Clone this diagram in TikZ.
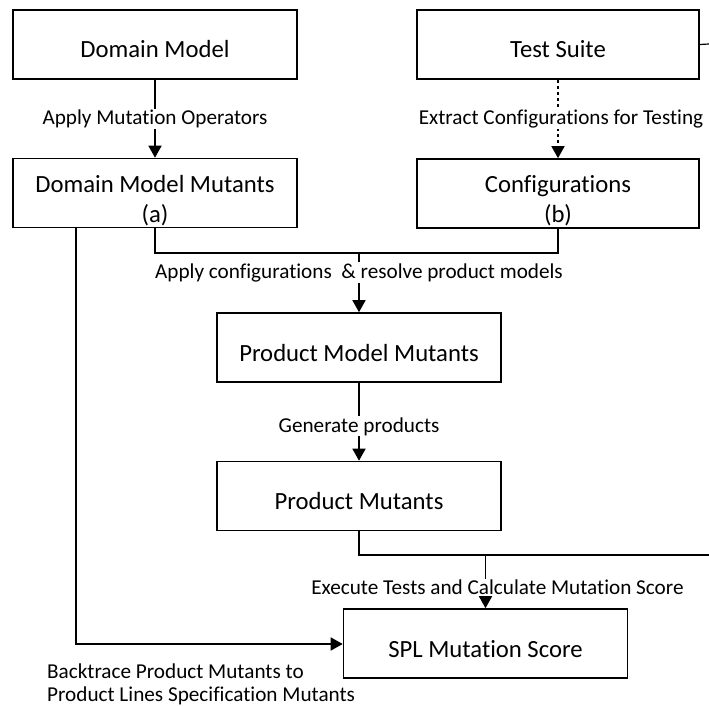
\documentclass[tikz,border=0pt]{standalone}
\usepackage{fontspec}
\setmainfont{Carlito}[Ligatures=NoCommon]
\usetikzlibrary{arrows.meta}
\begin{document}
\begin{tikzpicture}[x=1pt,y=-1pt,
  box/.style={draw,line width=1.6pt,minimum width=284pt,minimum height=69pt,inner sep=0pt,font=\fontsize{24.7}{27}\selectfont,align=center,text height=27pt,text depth=0pt},
  box2/.style={box,font=\fontsize{24.7}{30}\selectfont,text height=58pt},
  lbl/.style={fill=white,inner sep=1pt,font=\fontsize{21.2}{23}\selectfont},
  conn/.style={line width=1.6pt},
  arr/.style={conn,-{Triangle[length=12pt,width=13pt]}},
]
\useasboundingbox (0,0) rectangle (709,706);
\node[box] (dm) at (155,44.5) {Domain Model};
\node[box2] (dmm) at (155,193) {Domain Model Mutants\\(a)};
\node[box,minimum width=282pt] (ts) at (558,44.5) {Test Suite};
\node[box2,minimum width=282pt] (cfg) at (558,193.5) {Configurations\\(b)};
\node[box] (pmm) at (359,347.5) {Product Model Mutants};
\node[box] (pm) at (359,496) {Product Mutants};
\node[box] (spl) at (485.5,643.5) {SPL Mutation Score};

\coordinate (tsend) at (709,44);
\coordinate (j1) at (359,253);
\coordinate (j2) at (485.5,555);
\coordinate (j2end) at (709,555);
\coordinate (bt) at (76,644);

\draw[arr] (dm) -- node[lbl]{Apply Mutation Operators} (dmm);
\draw[arr,dash pattern=on 3pt off 3pt] (ts) -- node[lbl,xshift=3pt]{Extract Configurations for Testing} (cfg);
\draw[conn,line width=1.2pt] (ts.east) -- (tsend);
\draw[conn] (dmm.south) -- (dmm.south |- j1) -- (cfg.south |- j1) -- (cfg.south);
\draw[arr] (j1) -- node[lbl,pos=0.33]{Apply configurations~ \& resolve product models} (pmm);
\draw[arr] (pmm) -- node[lbl,pos=0.56]{Generate products} (pm);
\draw[conn] (pm.south) -- (pm.south |- j2end) -- (j2end);
\draw[arr] (j2) -- node[lbl,pos=0.61,xshift=12pt]{Execute Tests and Calculate Mutation Score} (spl);
\draw[arr] (dmm.south -| bt) -- (bt) -- (spl.west |- bt);
\node[anchor=west,align=left,inner sep=0pt,font=\fontsize{21.2}{23}\selectfont] (bk) at (47,684) {Backtrace Product Mutants to\\Product Lines Specification Mutants};
\end{tikzpicture}
\end{document}
